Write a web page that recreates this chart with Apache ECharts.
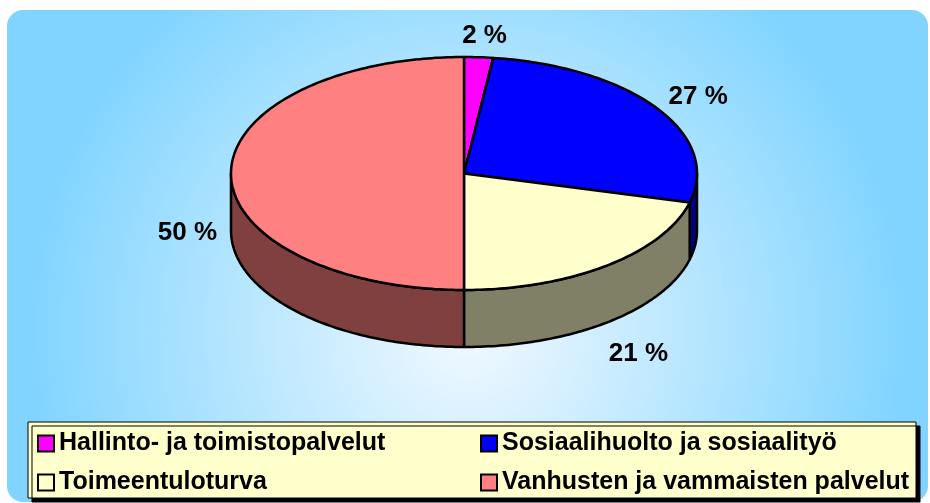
<!DOCTYPE html>
<html>
<head>
<meta charset="utf-8">
<script src="https://cdn.jsdelivr.net/npm/echarts@6/dist/echarts.min.js"></script>
<style>
  html, body { margin: 0; padding: 0; background: #fff; }
  #chart { width: 930px; height: 503px; }
</style>
</head>
<body>
<div id="chart"></div>
<script>
const categories = [
  'Hallinto- ja toimistopalvelut',
  'Sosiaalihuolto ja sosiaalityö',
  'Toimeentuloturva',
  'Vanhusten ja vammaisten palvelut'
]
const shares = [2, 27, 21, 50]
const topColors = ['#ff00ff', '#0000ff', '#ffffcc', '#ff8080']
const sideColors = ['#800080', '#000080', '#808066', '#804040']

const FONT = '"Liberation Sans", Arial, sans-serif'
// flattened pie geometry
const CX = 464, CY = 173.5, RX = 233, RY = 116.5, DEPTH = 57

const total = shares.reduce((a, b) => a + b, 0)
const startOf = i => shares.slice(0, i).reduce((a, b) => a + b, 0) / total * 360

const pt = (deg, dy) => {
  const r = deg * Math.PI / 180
  return [CX + RX * Math.sin(r), CY - RY * Math.cos(r) + dy]
}
const arc = (a, b, dy) => {
  const n = Math.max(2, Math.ceil(Math.abs(b - a)))
  const pts = []
  for (let k = 0; k <= n; k++) pts.push(pt(a + (b - a) * k / n, dy))
  return pts
}

const renderSlice = (params, api) => {
  const i = params.seriesIndex
  const a0 = startOf(i)
  const a1 = a0 + api.value(0) / total * 360
  const children = []
  // front wall, only the part facing the viewer
  const s0 = Math.max(a0, 90), s1 = Math.min(a1, 270)
  if (s1 > s0) {
    children.push({
      type: 'polygon',
      shape: { points: arc(s0, s1, 0).concat(arc(s1, s0, DEPTH)) },
      style: { fill: sideColors[i], stroke: '#000', lineWidth: 2.5, lineJoin: 'round' }
    })
  }
  children.push({
    type: 'polygon',
    shape: { points: [[CX, CY]].concat(arc(a0, a1, 0)) },
    style: { fill: topColors[i], stroke: '#000', lineWidth: 2.5, lineJoin: 'round' }
  })
  const mid = (a0 + a1) / 2 * Math.PI / 180
  const c = Math.cos(mid)
  children.push({
    type: 'text',
    x: CX + 1.2 * RX * Math.sin(mid) + 3,
    y: CY - 1.2 * RY * c + (c < 0.01 ? DEPTH * (1 - 0.25 * c) : 0) + 2,
    style: {
      text: api.value(0) + ' %',
      fill: '#000',
      font: 'bold 26px ' + FONT,
      align: 'center',
      verticalAlign: 'middle'
    }
  })
  return { type: 'group', children }
}

const legendBase = {
  orient: 'vertical',
  top: 431,
  padding: 0,
  itemGap: 14,
  itemWidth: 16,
  itemHeight: 16,
  icon: 'rect',
  selectedMode: false,
  itemStyle: { borderColor: '#000', borderWidth: 2 },
  textStyle: { fontFamily: FONT, fontSize: 25, fontWeight: 'bold', color: '#000', lineHeight: 25 }
}

const chart = echarts.init(document.getElementById('chart'))
chart.setOption({
  animation: false,
  graphic: [
    {
      type: 'rect', z: -10,
      shape: { x: 7, y: 10, width: 921, height: 492, r: 16 },
      style: {
        fill: {
          type: 'radial', x: 0.5, y: 0.65, r: 0.9,
          colorStops: [
            { offset: 0, color: '#f2f9ff' },
            { offset: 1, color: '#80d4ff' }
          ]
        }
      }
    },
    {
      type: 'rect', z: 1,
      shape: { x: 28, y: 422, width: 888, height: 76 },
      style: {
        fill: '#ffffcc', stroke: '#000', lineWidth: 1,
        shadowColor: '#000', shadowOffsetX: 4, shadowOffsetY: 4, shadowBlur: 0
      }
    }
  ],
  legend: [
    { ...legendBase, left: 37, data: [categories[0], categories[2]] },
    { ...legendBase, left: 480, data: [categories[1], categories[3]] }
  ],
  series: categories.map((name, i) => ({
    type: 'custom',
    name,
    coordinateSystem: 'none',
    itemStyle: { color: topColors[i] },
    renderItem: renderSlice,
    data: [[shares[i]]]
  }))
})
</script>
</body>
</html>
